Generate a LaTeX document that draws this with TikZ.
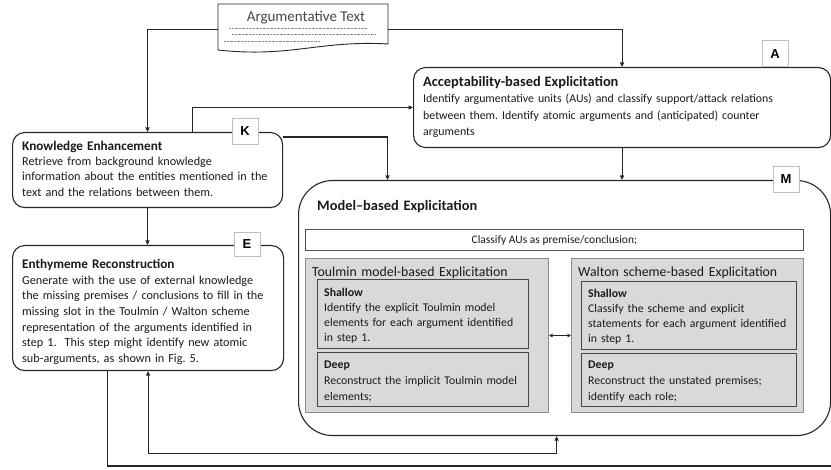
\documentclass[tikz,border=0pt]{standalone}
\usepackage{fontspec}
\setmainfont{Carlito}
\newfontfamily\labfont{Liberation Sans}
\usetikzlibrary{arrows.meta}
\definecolor{boxgray}{HTML}{D9D9D9}
\definecolor{midgray}{HTML}{8C8C8C}
\definecolor{darkline}{HTML}{262626}
\definecolor{inkc}{HTML}{1A1A1A}
\newcommand{\hd}[2][14.4]{{\fontsize{#1}{16}\selectfont\bfseries #2}}
\newcommand{\hs}[1]{{\bfseries #1}}
\tikzset{
  stagebox/.style={draw=darkline, line width=1.1pt, rounded corners=12pt, inner sep=0pt, anchor=north west},
  bigbox/.style={draw=darkline, line width=1.1pt, rounded corners=34pt, inner sep=0pt, anchor=north west},
  txt/.style={inner sep=0pt, anchor=base west, align=left, text width=420pt, text=inkc},
  lab/.style={draw=black!25, fill=white, line width=0.6pt, minimum width=26pt, minimum height=26pt, inner sep=0pt, font=\labfont\bfseries\fontsize{13}{13}\selectfont},
  graybox/.style={draw=midgray, fill=boxgray, line width=1pt, inner sep=0pt, anchor=north west},
  innerbox/.style={draw=darkline!85, fill=boxgray, line width=0.9pt, inner sep=0pt, anchor=north west},
  arr/.style={draw=darkline, line width=1.1pt, -{Triangle[length=4.5pt,width=4pt]}},
  plainline/.style={draw=darkline, line width=1.1pt},
  dots/.style={draw=black!45, line width=0.5pt, dash pattern=on 0.8pt off 0.6pt}
}
\begin{document}
\frenchspacing
\begin{tikzpicture}[x=1pt,y=-1pt]
\useasboundingbox (0,0) rectangle (831,470);

% Argumentative text document
\draw[draw=darkline, line width=0.9pt, fill=white] (218,4) -- (388,4) -- (388,44)
  .. controls (320,40) and (290,58) .. (218,50) -- cycle;
\node[inner sep=0pt, minimum width=170pt, minimum height=50pt, anchor=north west] (doc) at (218,4) {};
\node[inner sep=0pt, anchor=base, text=inkc!80, font=\fontsize{15}{16}\selectfont] (doctitle) at (306,22) {Argumentative Text};
\draw[dots] (229,28) -- (367,28);
\draw[dots] (232,34) -- (375,34);
\draw[dots] (224,41) -- (320,41);

% A box
\node[stagebox, minimum width=417pt, minimum height=80pt] (A) at (413,67) {};
\node[txt, font=\fontsize{11.85}{16.5}\selectfont] (Atext) at (423,86.5) {\hd{Acceptability-based Explicitation}\\
Identify argumentative units (AUs) and classify support/attack relations\\
between them. Identify atomic arguments and (anticipated) counter\\
arguments};
\node[lab, anchor=south] (Alab) at (775,67) {A};

% K box
\node[stagebox, minimum width=270pt, minimum height=75pt] (K) at (12,132) {};
\node[txt, font=\fontsize{12.2}{15.2}\selectfont] (Ktext) at (22,150.5) {\hd[13.2]{Knowledge Enhancement}\\
Retrieve from background knowledge\\
information about the entities mentioned in the\\
text and the relations between them.};
\node[lab] (Klab) at (245,131) {K};

% E box
\node[stagebox, minimum width=271pt, minimum height=125pt] (E) at (12,245) {};
\node[txt, font=\fontsize{12.2}{15.65}\selectfont] (Etext) at (22,268.5) {\hd[13.2]{Enthymeme Reconstruction}\\
Generate with the use of external knowledge\\
the missing premises / conclusions to fill in the\\
missing slot in the Toulmin / Walton scheme\\
representation of the arguments identified in\\
step 1.\ \ This step might identify new atomic\\
sub-arguments, as shown in Fig. 5.};
\node[lab, minimum height=24pt] (Elab) at (247,244) {E};

% M box
\node[bigbox, minimum width=532pt, minimum height=255pt] (M) at (298,180) {};
\node[txt, font=\fontsize{14.4}{16}\selectfont] (Mtitle) at (317,210.5) {\textbf{Model--based Explicitation}};
\node[lab] (Mlab) at (786,179) {M};

\node[draw=darkline!80, line width=0.9pt, fill=white, inner sep=0pt, minimum width=498pt, minimum height=21pt, anchor=north west,
  font=\fontsize{11.5}{13}\selectfont, text=inkc] (cls) at (305,229) {Classify AUs as premise/conclusion;};

% Toulmin
\node[graybox, minimum width=243pt, minimum height=154pt] (TM) at (305,258) {};
\node[txt, font=\fontsize{13.8}{15}\selectfont] (TMtitle) at (312,276.4) {Toulmin model-based Explicitation};
\node[innerbox, minimum width=211pt, minimum height=69pt] (TS) at (317,279) {};
\node[txt, font=\fontsize{11.8}{15}\selectfont] (TStext) at (324,297) {\hs{Shallow}\\
Identify the explicit Toulmin model\\
elements for each argument identified\\
in step 1.};
\node[innerbox, minimum width=211pt, minimum height=54pt] (TD) at (317,352) {};
\node[txt, font=\fontsize{11.8}{16}\selectfont] (TDtext) at (324,368.7) {\hs{Deep}\\
Reconstruct the implicit Toulmin model\\
elements;};

% Walton
\node[graybox, minimum width=232pt, minimum height=154pt] (WM) at (571,258) {};
\node[txt, font=\fontsize{13.8}{15}\selectfont] (WMtitle) at (578,276.4) {Walton scheme-based Explicitation};
\node[innerbox, minimum width=215pt, minimum height=68pt] (WS) at (581,281) {};
\node[txt, font=\fontsize{11.8}{15}\selectfont] (WStext) at (588,297.7) {\hs{Shallow}\\
Classify the scheme and explicit\\
statements for each argument identified\\
in step 1.};
\node[innerbox, minimum width=215pt, minimum height=53pt] (WD) at (581,353) {};
\node[txt, font=\fontsize{11.8}{16}\selectfont] (WDtext) at (588,368.7) {\hs{Deep}\\
Reconstruct the unstated premises;\\
identify each role;};

\draw[draw=darkline, line width=0.9pt, {Triangle[length=3.5pt,width=3.5pt]}-{Triangle[length=3.5pt,width=3.5pt]}] (TM.east) -- (WM.west);

% connectors
\draw[arr] (doc.west) -| (K.north);
\draw[arr] (doc.east) -| (A.north);
\draw[arr] ([xshift=45pt]K.north) |- (A.west);
\draw[arr] ([yshift=-5pt]K.north east) -| ([xshift=-177pt]M.north);
\draw[arr] (A.south) -- (A.south |- M.north);
\draw[arr] (K.south) -- (K.south |- E.north);
\draw[draw=darkline, line width=1.1pt, {Triangle[length=4.5pt,width=4pt]}-{Triangle[length=4.5pt,width=4pt]}]
  ([xshift=-8pt]M.south) -- ++(0,17) -| (E.south);
\coordinate (rt) at (831,466);
\draw[plainline] ([xshift=-40.5pt]E.south) |- (rt);
\end{tikzpicture}
\end{document}
